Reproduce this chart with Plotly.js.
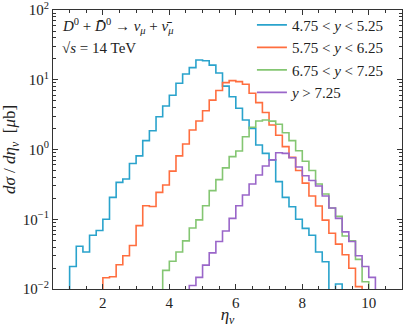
<!DOCTYPE html>
<html>
<head>
<meta charset="utf-8">
<script src="https://cdn.plot.ly/plotly-3.0.1.min.js"></script>
<style>
  html, body { margin: 0; padding: 0; background: #fff; }
  #chart { width: 407px; height: 327px; }
</style>
</head>
<body>
<div id="chart"></div>
<script>
// bin width 0.2 in eta, each series starts at its first non-empty bin
const BIN = 0.2;

const blueStart = 1.0;
const blueVals = [0.021, 0.041, 0.034, 0.059, 0.069, 0.10, 0.206, 0.338, 0.377, 0.63,
  0.81, 1.34, 1.86, 2.95, 4.2, 6.0, 8.9, 12.1, 14.9, 19.2,
  18.7, 16.2, 12.5, 8.1, 5.7, 3.9, 2.65, 2.0, 1.16, 0.88,
  0.71, 0.346, 0.206, 0.151, 0.10, 0.074, 0.059, 0.034, 0.0246, 0, 0.0118];

const orangeStart = 2.0;
const orangeVals = [0.0145, 0.015, 0.0223, 0.030, 0.042, 0.081, 0.156, 0.152, 0.243, 0.31,
  0.49, 0.81, 1.2, 1.9, 2.56, 3.6, 5.1, 7.0, 9.1, 9.7,
  9.4, 8.6, 6.4, 4.7, 3.4, 2.25, 1.6, 1.1, 0.77, 0.50,
  0.33, 0.215, 0.155, 0.097, 0.063, 0.044, 0.031, 0.0198, 0.0108];

const greenStart = 3.8;
const greenVals = [0.0185, 0.025, 0.034, 0.049, 0.075, 0.098, 0.156, 0.257, 0.37, 0.545,
  0.79, 0.95, 1.52, 2.08, 2.56, 2.65, 2.55, 2.3, 1.74, 1.34,
  0.96, 0.68, 0.50, 0.32, 0.23, 0.145, 0.11, 0.0575, 0.049, 0.0266, 0.0127];

const purpleStart = 4.6;
const purpleVals = [0.0112, 0.0147, 0.022, 0.033, 0.048, 0.068, 0.103, 0.156, 0.223, 0.32,
  0.43, 0.58, 0.71, 0.90, 0.88, 0.76, 0.56, 0.42, 0.36, 0.30,
  0.215, 0.145, 0.103, 0.066, 0.048, 0.030, 0.021, 0.0147];

const seriesNames = [
  "4.75 &lt; <i>y</i> &lt; 5.25",
  "5.75 &lt; <i>y</i> &lt; 6.25",
  "6.75 &lt; <i>y</i> &lt; 7.25",
  "<i>y</i> &gt; 7.25",
];
const seriesColors = ["#2aa3cc", "#ff6e3f", "#84c672", "#9a66c9"];

const yTickVals = [0.01, 0.1, 1, 10, 100];
const yTickText = ["10<sup>−2</sup>", "10<sup>−1</sup>", "10<sup>0</sup>", "10<sup>1</sup>", "10<sup>2</sup>"];
const xTickVals = [2, 4, 6, 8, 10];

const FLOOR = 1e-4; // empty bins drop below the axis on a log scale

function stepTrace(start, vals, name, color) {
  const x = [start], y = [FLOOR];
  vals.forEach((v, i) => {
    x.push(+(start + i * BIN).toFixed(2));
    y.push(v > 0 ? v : FLOOR);
  });
  const end = +(start + vals.length * BIN).toFixed(2);
  x.push(end, end);
  y.push(vals[vals.length - 1] || FLOOR, FLOOR);
  return {
    type: "scatter", mode: "lines", name, x, y,
    line: { shape: "hv", color, width: 1.6 },
    hoverinfo: "skip",
  };
}

const minorY = [];
[0.01, 0.1, 1, 10].forEach(d => { for (let k = 2; k <= 9; k++) minorY.push(d * k); });

const FONT = { family: "Liberation Serif, DejaVu Serif, serif", color: "#222", size: 15 };
const axisCommon = {
  showline: true, linecolor: "#333", linewidth: 1, mirror: "ticks",
  ticks: "inside", ticklen: 5, tickwidth: 1, tickcolor: "#333",
  showgrid: false, zeroline: false,
  tickfont: { ...FONT, size: 15 },
  ticklabeloverflow: "allow",
};

Plotly.newPlot("chart", [
  stepTrace(blueStart, blueVals, seriesNames[0], seriesColors[0]),
  stepTrace(orangeStart, orangeVals, seriesNames[1], seriesColors[1]),
  stepTrace(greenStart, greenVals, seriesNames[2], seriesColors[2]),
  stepTrace(purpleStart, purpleVals, seriesNames[3], seriesColors[3]),
], {
  width: 407, height: 327,
  paper_bgcolor: "#fff", plot_bgcolor: "#fff",
  font: FONT,
  margin: { l: 53, r: 5, t: 10, b: 38 },
  showlegend: true,
  legend: {
    x: 0.57, y: 1.005, xanchor: "left", yanchor: "top",
    bgcolor: "rgba(0,0,0,0)", borderwidth: 0,
    font: { ...FONT, size: 15 }, tracegroupgap: 0,
  },
  xaxis: {
    ...axisCommon,
    range: [0.5, 11],
    tickmode: "array", tickvals: xTickVals,
    minor: { dtick: 0.5, tick0: 0, ticks: "inside", ticklen: 3, tickcolor: "#333" },
    title: { text: "<i>η</i><sub><i>ν</i></sub>", font: { ...FONT, size: 17 }, standoff: 2 },
  },
  yaxis: {
    ...axisCommon,
    type: "log",
    range: [-2, 2],
    tickmode: "array", tickvals: yTickVals, ticktext: yTickText,
    minor: { tickmode: "array", tickvals: minorY, ticks: "inside", ticklen: 3, tickcolor: "#333" },
    title: { text: "<i>dσ</i> / <i>dη</i><sub><i>ν</i></sub>  [<i>μ</i>b]", font: { ...FONT, size: 17 }, standoff: 4 },
  },
  annotations: [
    {
      xref: "paper", yref: "paper", x: 0.02, y: 0.985, xanchor: "left", yanchor: "top",
      showarrow: false, align: "left",
      font: { ...FONT, size: 15 },
      text: "<i>D</i><sup>0</sup> + <i>D̄</i><sup>0</sup> → <i>ν</i><sub><i>μ</i></sub> + <i>ν̄</i><sub><i>μ</i></sub>",
    },
    {
      xref: "paper", yref: "paper", x: 0.02, y: 0.9, xanchor: "left", yanchor: "top",
      showarrow: false, align: "left",
      font: { ...FONT, size: 15 },
      text: "√<i>s</i> = 14 TeV",
    },
  ],
}, { displayModeBar: false, staticPlot: true });
</script>
</body>
</html>
